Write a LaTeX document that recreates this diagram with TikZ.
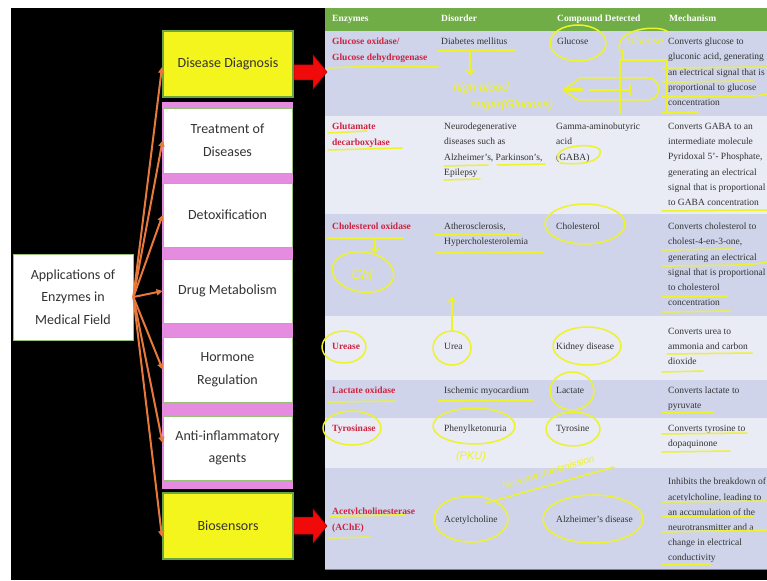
\documentclass[tikz,border=0pt]{standalone}
\usepackage{fontspec}
\setmainfont{Liberation Serif}
\newfontfamily\calib{Carlito}
\newfontfamily\handf{Liberation Sans}
\usetikzlibrary{arrows.meta,calc}
\definecolor{hdrgreen}{HTML}{70AD47}
\definecolor{rowdark}{HTML}{CFD4EA}
\definecolor{rowlight}{HTML}{E9EBF5}
\definecolor{enzred}{HTML}{D0223F}
\definecolor{bodytxt}{HTML}{333333}
\definecolor{boxyellow}{HTML}{F5F51E}
\definecolor{boxgreen}{HTML}{6BA543}
\definecolor{pinkband}{HTML}{E58CE0}
\definecolor{arrorange}{HTML}{E8793A}
\definecolor{hly}{HTML}{EEF22A}
\definecolor{blockred}{HTML}{F00A0A}
\begin{document}
\begin{tikzpicture}[x=1pt,y=-1pt,
  hl/.style={draw=hly, line width=1.5pt, line cap=round, line join=round},
  hltext/.style={text=hly, font=\handf\itshape\fontsize{12}{13}\selectfont, inner sep=0},
  cell/.style={anchor=north west, inner sep=0, align=left, text=bodytxt, font=\fontsize{9.5}{15.2}\selectfont},
  enz/.style={cell, text=enzred, font=\bfseries\fontsize{9.5}{15.6}\selectfont},
  hdr/.style={cell, text=white, font=\bfseries\fontsize{9.5}{11}\selectfont},
  appbox/.style={draw=boxgreen!70!white, fill=white, line width=0.8pt, text=black!80,
    font=\calib\fontsize{14}{22.5}\selectfont, align=center, inner sep=0},
  yelbox/.style={appbox, fill=boxyellow, draw=boxgreen, line width=2pt},
  oarrow/.style={draw=arrorange, line width=2pt, -{Triangle[length=6pt,width=6pt]}},
  blockarrow/.style={fill=blockred, draw=red!70!black, line width=0.5pt}
]
\useasboundingbox (0,0) rectangle (767,580);
\fill[white] (0,0) rectangle (767,580);
\fill[black] (11,8) rectangle (767,580);

% ---------- table ----------
\fill[hdrgreen] (325,8) rectangle (767,31);
\fill[rowdark] (325,31) rectangle (767,116);
\fill[rowlight] (325,116) rectangle (767,214);
\fill[rowdark] (325,214) rectangle (767,316);
\fill[rowlight] (325,316) rectangle (767,380);
\fill[rowdark] (325,380) rectangle (767,418);
\fill[rowlight] (325,418) rectangle (767,468);
\fill[rowdark] (325,468) rectangle (767,569);
\draw[gray, line width=0.8pt] (325,569) -- (767,569);

\node[hdr] (h1) at (332,15) {Enzymes};
\node[hdr] (h2) at (441,15) {Disorder};
\node[hdr] (h3) at (557,15) {Compound Detected};
\node[hdr] (h4) at (669,15) {Mechanism};

% row 1
\node[enz] (e1) at (332,38) {Glucose oxidase/\\Glucose dehydrogenase};
\node[cell] (d1) at (441,38) {Diabetes mellitus};
\node[cell] (c1) at (557,38) {Glucose};
\node[cell] (m1) at (668,38) {Converts glucose to\\gluconic acid, generating\\an electrical signal that is\\proportional to glucose\\concentration};
% row 2
\node[enz] (e2) at (332,123) {Glutamate\\decarboxylase};
\node[cell] (d2) at (444,123) {Neurodegenerative\\diseases such as\\Alzheimer's, Parkinson's,\\Epilepsy};
\node[cell] (c2) at (556,123) {Gamma-aminobutyric\\acid\\(GABA)};
\node[cell] (m2) at (668,123) {Converts GABA to an\\intermediate molecule\\Pyridoxal 5'- Phosphate,\\generating an electrical\\signal that is proportional\\to GABA concentration};
% row 3
\node[enz] (e3) at (332,223) {Cholesterol oxidase};
\node[cell] (d3) at (444,223) {Atherosclerosis,\\Hypercholesterolemia};
\node[cell] (c3) at (556,223) {Cholesterol};
\node[cell] (m3) at (668,223) {Converts cholesterol to\\cholest-4-en-3-one,\\generating an electrical\\signal that is proportional\\to cholesterol\\concentration};
% row 4
\node[enz] (e4) at (332,343) {Urease};
\node[cell] (d4) at (444,343) {Urea};
\node[cell] (c4) at (556,343) {Kidney disease};
\node[cell] (m4) at (668,328) {Converts urea to\\ammonia and carbon\\dioxide};
% row 5
\node[enz] (e5) at (332,387) {Lactate oxidase};
\node[cell] (d5) at (444,387) {Ischemic myocardium};
\node[cell] (c5) at (556,387) {Lactate};
\node[cell] (m5) at (668,387) {Converts lactate to\\pyruvate};
% row 6
\node[enz] (e6) at (332,425) {Tyrosinase};
\node[cell] (d6) at (444,425) {Phenylketonuria};
\node[cell] (c6) at (556,425) {Tyrosine};
\node[cell] (m6) at (668,425) {Converts tyrosine to\\dopaquinone};
% row 7
\node[enz] (e7) at (332,508) {Acetylcholinesterase\\(AChE)};
\node[cell] (d7) at (444,516) {Acetylcholine};
\node[cell] (c7) at (556,516) {Alzheimer's disease};
\node[cell] (m7) at (668,478) {Inhibits the breakdown of\\acetylcholine, leading to\\an accumulation of the\\neurotransmitter and a\\change in electrical\\conductivity};

% ---------- yellow annotations ----------
% row 1
\draw[hl] (328,68) .. controls (370,66) and (400,66) .. (438,67);
\draw[hl] (438,51) -- (515,50);
\draw[hl,-{Straight Barb[length=4pt]}] (470,52) -- (470,75);
\node[hltext] (hw1) at (481,88) {high blood};
\node[hltext] (hw2) at (512,105) {sugar(Glucose)};
\draw[hl] (578,43) ellipse [x radius=28pt, y radius=18pt];
\node[hltext, font=\handf\itshape\fontsize{10}{11}\selectfont] (hw3) at (645,41) {Glucose};
\draw[hl] (620,52) .. controls (612,28) and (660,24) .. (668,32);
\draw[hl] (623,50) -- (623,60);
\draw[hl] (620,113) -- (620,60) -- (667,60) -- (667,113);
\draw[hl] (578,78) -- (648,78) .. controls (662,78) and (662,100) .. (648,100) -- (578,100);
\draw[hl] (578,80) -- (563,90) -- (578,100);
\draw[hl, line width=3pt] (566,90) -- (582,90);
\draw[hl] (590,90) -- (630,90);
\draw[hl] (630,85) -- (630,95);
\draw[hl] (662,68) -- (767,67);
\draw[hl] (662,82) -- (753,81);
\draw[hl] (662,97) .. controls (720,96) and (750,98) .. (767,94);
\draw[hl] (662,113) -- (698,112);
% row 2
\draw[hl] (328,133) -- (367,131);
\draw[hl] (328,150) -- (402,148);
\draw[hl] (444,166) -- (488,165);
\draw[hl] (497,165) -- (545,164);
\draw[hl] (444,180) -- (480,179);
\draw[hl] (558,160) .. controls (552,145) and (595,142) .. (600,150) .. controls (603,160) and (585,166) .. (560,163);
\draw[hl] (662,211) -- (767,210);
% row 3
\draw[hl] (327,238) -- (403,238);
\draw[hl,-{Straight Barb[length=4pt]}] (375,238) -- (375,253);
\draw[hl, rotate around={-8:(363,272)}] (363,272) ellipse [x radius=31pt, y radius=20pt];
\node[hltext, font=\handf\itshape\fontsize{14}{15}\selectfont] (hw4) at (362,274) {Chl};
\draw[hl] (434,235) -- (520,234);
\draw[hl] (436,253) -- (543,252);
\draw[hl] (585,224) ellipse [x radius=40pt, y radius=20pt];
\draw[hl] (662,250) -- (733,249);
\draw[hl] (662,266) .. controls (720,265) and (750,266) .. (767,262);
\draw[hl] (662,297) -- (727,296);
\draw[hl] (662,312) -- (730,311);
\draw[hl,-{Straight Barb[length=4pt]}] (452,331) -- (452,297);
% row 4
\draw[hl] (344,347) ellipse [x radius=22pt, y radius=16pt];
\draw[hl] (452,348) ellipse [x radius=19pt, y radius=17pt];
\draw[hl] (587,346) ellipse [x radius=34pt, y radius=19pt];
\draw[hl] (667,354) -- (752,353);
\draw[hl] (662,372) -- (703,371);
% row 5
\draw[hl] (328,402) -- (395,401);
\draw[hl] (438,401) -- (533,400);
\draw[hl] (572,391) ellipse [x radius=22pt, y radius=19pt];
\draw[hl] (662,413) -- (713,412);
% row 6
\draw[hl] (352,428) ellipse [x radius=29pt, y radius=17pt];
\draw[hl] (474,426) ellipse [x radius=41pt, y radius=18pt];
\node[hltext, font=\handf\itshape\fontsize{11}{12}\selectfont] (hw5) at (471,457) {(PKU)};
\draw[hl] (573,429) ellipse [x radius=27pt, y radius=17pt];
\draw[hl] (662,434) -- (747,433);
\draw[hl] (662,452) -- (730,451);
% row 7
\node[hltext, rotate=17, font=\handf\itshape\fontsize{10}{11}\selectfont] (hw6) at (548,472) {Nervous transmission};
\draw[hl] (486,503) -- (614,467);
\draw[hl, line width=1.8pt] (330,516) -- (405,515);
\draw[hl] (328,538) -- (370,537);
\draw[hl] (471,519) ellipse [x radius=37pt, y radius=23pt];
\draw[hl] (593,519) ellipse [x radius=50pt, y radius=24pt];
\draw[hl] (662,502) -- (767,501);
\draw[hl] (662,517) -- (753,516);
\draw[hl] (662,532) -- (767,530);
\draw[hl] (662,565) -- (710,564);

% ---------- left panel ----------
\fill[pinkband] (162,102) rectangle (293,489);
\node[yelbox, minimum width=130pt, minimum height=66pt] (dd) at (228,64) {Disease Diagnosis};
\node[appbox, minimum width=129pt, minimum height=65pt] (tr) at (227.5,140.5) {Treatment of\\Diseases};
\node[appbox, minimum width=129pt, minimum height=64pt] (dt) at (227.5,215) {Detoxification};
\node[appbox, minimum width=129pt, minimum height=64pt] (dm) at (227.5,291) {Drug Metabolism};
\node[appbox, minimum width=129pt, minimum height=65pt] (hr) at (227.5,369.5) {Hormone\\Regulation};
\node[appbox, minimum width=129pt, minimum height=64pt] (ai) at (227.5,448) {Anti-inflammatory\\agents};
\node[yelbox, minimum width=130pt, minimum height=66pt] (bs) at (228,526) {Biosensors};
\node[appbox, minimum width=120pt, minimum height=86pt] (app) at (73,297) {Applications of\\Enzymes in\\Medical Field};

\coordinate (ddin) at ($(dd.west)+(0,3)$);
\coordinate (aiin) at ($(ai.west)+(0,-5)$);
\coordinate (bsin) at ($(bs.west)+(0,11)$);
\draw[oarrow] (app.east) -- (ddin);
\draw[oarrow] (app.east) -- (tr.west);
\draw[oarrow] (app.east) -- (dt.west);
\draw[oarrow] (app.east) -- (dm.west);
\draw[oarrow] (app.east) -- (hr.west);
\draw[oarrow] (app.east) -- (aiin);
\draw[oarrow] (app.east) -- (bsin);

% red block arrows
\filldraw[blockarrow] (294,65) -- (313,65) -- (313,55) -- (327,72) -- (313,89) -- (313,80) -- (294,80) -- cycle;
\filldraw[blockarrow] (294,517) -- (313,517) -- (313,509) -- (327,526) -- (313,543) -- (313,534) -- (294,534) -- cycle;
\end{tikzpicture}
\end{document}
